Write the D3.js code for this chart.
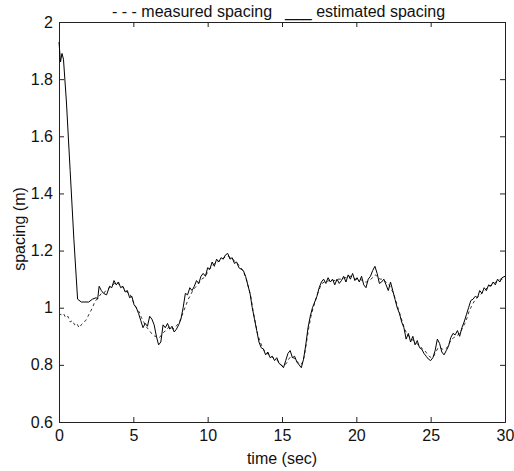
<!DOCTYPE html>
<html>
<head>
<meta charset="utf-8">
<script src="https://cdn.jsdelivr.net/npm/d3@7"></script>
<style>
  body { margin: 0; background: #fff; }
  text { font-family: "Liberation Sans", Arial, sans-serif; fill: #111; }
</style>
</head>
<body>
<div id="chart"></div>
<script>
// tick labels
var xTicks = [0, 5, 10, 15, 20, 25, 30];
var yTicks = [0.6, 0.8, 1, 1.2, 1.4, 1.6, 1.8, 2];

// estimated spacing (solid) : [time sec, spacing m]
var estimated = [
  [0.00,1.93],[0.10,1.86],[0.20,1.89],[0.30,1.87],[0.50,1.72],[0.75,1.48],[1.00,1.24],[1.25,1.03],
  [1.50,1.02],[1.75,1.02],[2.00,1.02],[2.25,1.03],[2.50,1.035],[2.60,1.03],[2.70,1.075],[2.85,1.06],
  [3.00,1.05],[3.20,1.045],[3.40,1.075],[3.55,1.07],[3.70,1.095],[3.85,1.08],[4.00,1.09],[4.15,1.07],
  [4.30,1.075],[4.45,1.055],[4.60,1.06],[4.75,1.035],[4.90,1.04],[5.05,1.01],[5.20,1.0],[5.35,0.98],
  [5.50,0.955],[5.65,0.93],[5.80,0.945],[5.95,0.935],[6.10,0.97],[6.25,0.96],[6.40,0.94],[6.55,0.9],
  [6.70,0.87],[6.85,0.88],[7.00,0.94],[7.15,0.93],[7.30,0.945],[7.45,0.925],[7.60,0.935],[7.75,0.915],
  [7.90,0.925],[8.05,0.94],[8.20,0.96],[8.35,1.0],[8.50,1.05],[8.65,1.045],[8.80,1.07],[8.95,1.06],
  [9.10,1.075],[9.25,1.095],[9.40,1.085],[9.55,1.11],[9.70,1.12],[9.85,1.11],[10.00,1.14],[10.15,1.135],
  [10.30,1.16],[10.45,1.145],[10.60,1.17],[10.75,1.16],[10.90,1.175],[11.05,1.17],[11.20,1.185],[11.35,1.19],
  [11.50,1.17],[11.65,1.175],[11.80,1.155],[11.95,1.16],[12.10,1.14],[12.25,1.135],[12.40,1.13],[12.55,1.11],
  [12.70,1.08],[12.85,1.05],[13.00,1.0],[13.15,0.96],[13.30,0.92],[13.45,0.88],[13.60,0.86],[13.75,0.855],
  [13.90,0.835],[14.05,0.845],[14.20,0.825],[14.35,0.83],[14.50,0.815],[14.65,0.825],[14.80,0.805],[14.95,0.8],
  [15.10,0.79],[15.25,0.815],[15.40,0.84],[15.55,0.85],[15.70,0.825],[15.85,0.83],[16.00,0.81],[16.15,0.8],
  [16.30,0.79],[16.45,0.82],[16.60,0.87],[16.75,0.93],[16.90,0.97],[17.05,1.0],[17.20,1.02],[17.35,1.04],
  [17.50,1.07],[17.65,1.09],[17.80,1.1],[17.95,1.085],[18.10,1.105],[18.25,1.09],[18.40,1.1],[18.55,1.08],
  [18.70,1.1],[18.85,1.085],[19.00,1.095],[19.15,1.11],[19.30,1.09],[19.45,1.115],[19.60,1.1],[19.75,1.12],
  [19.90,1.095],[20.05,1.105],[20.20,1.09],[20.35,1.11],[20.50,1.08],[20.65,1.07],[20.80,1.1],[20.95,1.11],
  [21.10,1.13],[21.25,1.145],[21.40,1.12],[21.55,1.085],[21.70,1.09],[21.85,1.1],[22.00,1.08],[22.15,1.06],
  [22.30,1.09],[22.45,1.06],[22.60,1.03],[22.75,1.0],[22.90,0.98],[23.05,0.95],[23.20,0.93],[23.35,0.89],
  [23.50,0.91],[23.65,0.88],[23.80,0.9],[23.95,0.87],[24.10,0.885],[24.25,0.86],[24.40,0.855],[24.55,0.84],
  [24.70,0.83],[24.85,0.82],[25.00,0.815],[25.15,0.825],[25.30,0.85],[25.45,0.89],[25.60,0.875],[25.75,0.845],
  [25.90,0.835],[26.05,0.85],[26.20,0.865],[26.35,0.895],[26.50,0.91],[26.65,0.905],[26.80,0.92],[26.95,0.9],
  [27.10,0.93],[27.25,0.95],[27.40,0.975],[27.55,1.0],[27.70,1.025],[27.85,1.03],[28.00,1.04],[28.15,1.035],
  [28.30,1.06],[28.45,1.05],[28.60,1.07],[28.75,1.06],[28.90,1.08],[29.05,1.075],[29.20,1.09],[29.35,1.08],
  [29.50,1.1],[29.65,1.09],[29.80,1.105],[30.00,1.11]
];

// measured spacing (dashed)
var measured = [
  [0.00,0.98],[0.15,0.975],[0.30,0.98],[0.45,0.965],[0.60,0.97],[0.75,0.95],[0.90,0.955],[1.05,0.94],
  [1.20,0.945],[1.35,0.93],[1.50,0.94],[1.65,0.95],[1.80,0.955],[1.95,0.97],[2.10,0.985],[2.25,1.0],
  [2.40,1.02],[2.55,1.03],[2.70,1.04],[2.85,1.05],[3.00,1.05],[3.15,1.06],[3.30,1.065],[3.45,1.075],
  [3.60,1.08],[3.75,1.085],[3.90,1.09],[4.05,1.08],[4.20,1.075],[4.35,1.07],[4.50,1.06],[4.65,1.05],
  [4.80,1.045],[4.95,1.025],[5.10,1.01],[5.25,0.995],[5.40,0.985],[5.55,0.965],[5.70,0.95],[5.85,0.935],
  [6.00,0.925],[6.15,0.915],[6.30,0.905],[6.45,0.9],[6.60,0.9],[6.75,0.895],[6.90,0.905],[7.05,0.915],
  [7.20,0.92],[7.35,0.93],[7.50,0.935],[7.65,0.925],[7.80,0.93],[7.95,0.94],[8.10,0.95],[8.25,0.97],
  [8.40,0.99],[8.55,1.01],[8.70,1.03],[8.85,1.045],[9.00,1.06],[9.15,1.07],[9.30,1.08],[9.45,1.09],
  [9.60,1.1],[9.75,1.105],[9.90,1.115],[10.05,1.13],[10.20,1.14],[10.35,1.15],[10.50,1.155],[10.65,1.16],
  [10.80,1.165],[10.95,1.17],[11.10,1.175],[11.25,1.18],[11.40,1.18],[11.55,1.175],[11.70,1.17],[11.85,1.16],
  [12.00,1.155],[12.15,1.145],[12.30,1.135],[12.45,1.12],[12.60,1.1],[12.75,1.07],[12.90,1.04],[13.05,0.99],
  [13.20,0.95],[13.35,0.91],[13.50,0.885],[13.65,0.865],[13.80,0.85],[13.95,0.845],[14.10,0.835],[14.25,0.83],
  [14.40,0.825],[14.55,0.82],[14.70,0.815],[14.85,0.805],[15.00,0.795],[15.15,0.8],[15.30,0.805],[15.45,0.82],
  [15.60,0.83],[15.75,0.825],[15.90,0.82],[16.05,0.81],[16.20,0.8],[16.35,0.805],[16.50,0.83],[16.65,0.88],
  [16.80,0.93],[16.95,0.97],[17.10,1.0],[17.25,1.025],[17.40,1.05],[17.55,1.07],[17.70,1.085],[17.85,1.09],
  [18.00,1.09],[18.15,1.095],[18.30,1.1],[18.45,1.095],[18.60,1.095],[18.75,1.1],[18.90,1.1],[19.05,1.1],
  [19.20,1.105],[19.35,1.105],[19.50,1.11],[19.65,1.11],[19.80,1.105],[19.95,1.1],[20.10,1.1],[20.25,1.1],
  [20.40,1.095],[20.55,1.09],[20.70,1.09],[20.85,1.095],[21.00,1.1],[21.15,1.11],[21.30,1.115],[21.45,1.105],
  [21.60,1.1],[21.75,1.1],[21.90,1.095],[22.05,1.085],[22.20,1.08],[22.35,1.065],[22.50,1.05],[22.65,1.025],
  [22.80,1.0],[22.95,0.975],[23.10,0.95],[23.25,0.925],[23.40,0.91],[23.55,0.9],[23.70,0.89],[23.85,0.885],
  [24.00,0.88],[24.15,0.87],[24.30,0.865],[24.45,0.855],[24.60,0.85],[24.75,0.84],[24.90,0.83],[25.05,0.825],
  [25.20,0.83],[25.35,0.845],[25.50,0.86],[25.65,0.86],[25.80,0.855],[25.95,0.855],[26.10,0.86],[26.25,0.875],
  [26.40,0.89],[26.55,0.895],[26.70,0.9],[26.85,0.905],[27.00,0.915],[27.15,0.93],[27.30,0.945],[27.45,0.965],
  [27.60,0.99],[27.75,1.005],[27.90,1.02],[28.05,1.03],[28.20,1.04],[28.35,1.045],[28.50,1.055],[28.65,1.06],
  [28.80,1.07],[28.95,1.075],[29.10,1.08],[29.25,1.085],[29.40,1.09],[29.55,1.095],[29.70,1.1],[29.85,1.1],
  [30.00,1.105]
];

var width = 514, height = 471;
var margin = {top: 22, right: 9, bottom: 49, left: 59};

var svg = d3.select("#chart").append("svg")
    .attr("width", width)
    .attr("height", height);

var x = d3.scaleLinear().domain([0, 30]).range([margin.left, width - margin.right]);
var y = d3.scaleLinear().domain([0.6, 2]).range([height - margin.bottom, margin.top]);

// axes, matlab style: ticks point inward on all four sides
var tickLen = 5;
var fmt = function(d) { return d3.format("~g")(d); };

var gx = svg.append("g")
    .attr("transform", "translate(0," + y(0.6) + ")")
    .call(d3.axisBottom(x).tickValues(xTicks).tickSize(-tickLen).tickPadding(8).tickFormat(fmt));
var gxTop = svg.append("g")
    .attr("transform", "translate(0," + y(2) + ")")
    .call(d3.axisTop(x).tickValues(xTicks).tickSize(-tickLen).tickFormat(""));
var gy = svg.append("g")
    .attr("transform", "translate(" + x(0) + ",0)")
    .call(d3.axisLeft(y).tickValues(yTicks).tickSize(-tickLen).tickPadding(6).tickFormat(fmt));
var gyRight = svg.append("g")
    .attr("transform", "translate(" + x(30) + ",0)")
    .call(d3.axisRight(y).tickValues(yTicks).tickSize(-tickLen).tickFormat(""));

svg.selectAll(".domain").attr("stroke", "#222").attr("stroke-width", 1);
svg.selectAll(".tick line").attr("stroke", "#222");
svg.selectAll(".tick text")
    .style("font-size", "16px")
    .style("font-family", "'Liberation Sans', Arial, sans-serif")
    .attr("fill", "#111");

// the lines
var line = d3.line()
    .x(function(d) { return x(d[0]); })
    .y(function(d) { return y(d[1]); });

svg.append("path")
    .datum(measured)
    .attr("d", line)
    .attr("fill", "none")
    .attr("stroke", "#333")
    .attr("stroke-width", 1)
    .attr("stroke-dasharray", "3,3");

svg.append("path")
    .datum(estimated)
    .attr("d", line)
    .attr("fill", "none")
    .attr("stroke", "#000")
    .attr("stroke-width", 1);

// labels
svg.append("text")
    .attr("x", x(15))
    .attr("y", 464)
    .attr("text-anchor", "middle")
    .style("font-size", "16px")
    .text("time (sec)");

svg.append("text")
    .attr("transform", "translate(25,229) rotate(-90)")
    .attr("text-anchor", "middle")
    .style("font-size", "16px")
    .text("spacing (m)");

// legend as text, the way it is in the figure
svg.append("text")
    .attr("x", 112)
    .attr("y", 17)
    .style("font-size", "16px")
    .text("- - - measured spacing");
svg.append("text")
    .attr("x", 285)
    .attr("y", 17)
    .style("font-size", "16px")
    .text("___ estimated spacing");
</script>
</body>
</html>
